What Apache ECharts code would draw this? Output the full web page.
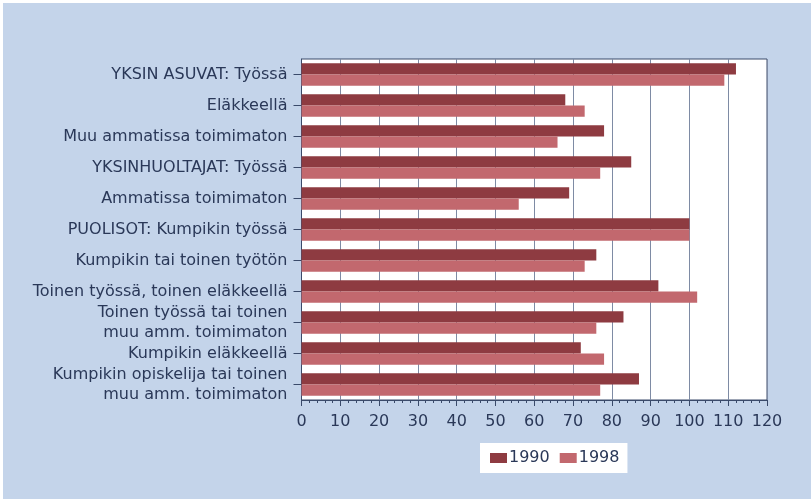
<!DOCTYPE html>
<html>
<head>
<meta charset="utf-8">
<script src="https://cdn.jsdelivr.net/npm/echarts@6/dist/echarts.min.js"></script>
<style>
  html, body { margin: 0; padding: 0; background: #ffffff; }
  #main { position: absolute; left: 3px; top: 3px; width: 808px; height: 496px; background: #c4d4ea; }
</style>
</head>
<body>
<div id="main"></div>
<script>
// luokat ylhäältä alas
var categories = [
  'YKSIN ASUVAT: Työssä',
  'Eläkkeellä',
  'Muu ammatissa toimimaton',
  'YKSINHUOLTAJAT: Työssä',
  'Ammatissa toimimaton',
  'PUOLISOT: Kumpikin työssä',
  'Kumpikin tai toinen työtön',
  'Toinen työssä, toinen eläkkeellä',
  'Toinen työssä tai toinen\nmuu amm. toimimaton',
  'Kumpikin eläkkeellä',
  'Kumpikin opiskelija tai toinen\nmuu amm. toimimaton'
];
var years = ['1990', '1998'];
var values1990 = [112, 68, 78, 85, 69, 100, 76, 92, 83, 72, 87];
var values1998 = [109, 73, 66, 77, 56, 100, 73, 102, 76, 78, 77];

var myChart = echarts.init(document.getElementById('main'));

var textColor = '#2a3858';
var font = 'DejaVu Sans';

var option = {
  animation: false,
  grid: {
    left: 298.5, right: 44, top: 56, bottom: 99,
    show: true,
    backgroundColor: '#ffffff',
    borderColor: '#3a4a6a',
    borderWidth: 1
  },
  legend: {
    data: years,
    left: 477,
    top: 440,
    backgroundColor: '#ffffff',
    padding: [7, 8, 7, 10],
    itemWidth: 17,
    itemHeight: 10,
    itemGap: 10,
    icon: 'rect',
    textStyle: { color: textColor, fontSize: 16, fontFamily: font, padding: [0, 0, 0, -3] }
  },
  xAxis: {
    type: 'value',
    min: 0,
    max: 120,
    interval: 10,
    axisLine: { show: true, lineStyle: { color: '#3a4a6a' } },
    axisTick: { show: true, length: 6, lineStyle: { color: '#3a4a6a' } },
    minorTick: { show: true, splitNumber: 5, length: 3, lineStyle: { color: '#3a4a6a' } },
    splitLine: { show: true, lineStyle: { color: '#7e8ba4', width: 1 } },
    axisLabel: { color: textColor, fontSize: 16, fontFamily: font, margin: 14 }
  },
  yAxis: {
    type: 'category',
    data: categories,
    inverse: true,
    axisLine: { show: true, lineStyle: { color: '#3a4a6a' } },
    axisTick: { show: true, alignWithLabel: true, length: 8, lineStyle: { color: '#3a4a6a' } },
    axisLabel: { color: textColor, fontSize: 16, fontFamily: font, margin: 14, lineHeight: 20, align: 'right' }
  },
  series: [
    {
      name: years[0],
      type: 'bar',
      data: values1990,
      barGap: '0%',
      barCategoryGap: '28%',
      itemStyle: { color: '#8e3b41' }
    },
    {
      name: years[1],
      type: 'bar',
      data: values1998,
      itemStyle: { color: '#c2686e' }
    }
  ]
};

myChart.setOption(option);
</script>
</body>
</html>
